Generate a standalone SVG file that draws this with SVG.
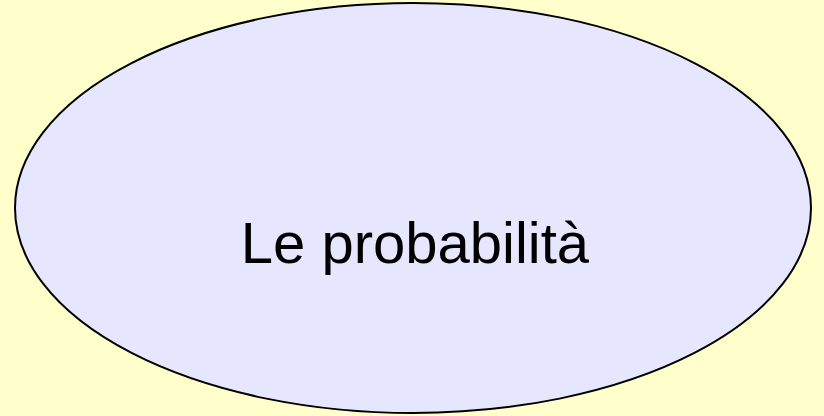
<svg xmlns="http://www.w3.org/2000/svg" width="824" height="416" viewBox="0 0 824 416">
<style>
.bg{fill:#FFFFCC}
.node{fill:#E6E6FF;stroke:#000;stroke-width:2}
.label{font-family:"Liberation Sans",Arial,sans-serif;font-size:58px;fill:#000;text-anchor:middle}
</style>
<rect class="bg" x="0" y="0" width="824" height="416"/>
<g id="node-probabilita">
<ellipse class="node" cx="413" cy="208" rx="398" ry="205"/>
<text class="label" x="415" y="263">Le probabilità</text>
</g>
<g id="connectors"/>
</svg>
